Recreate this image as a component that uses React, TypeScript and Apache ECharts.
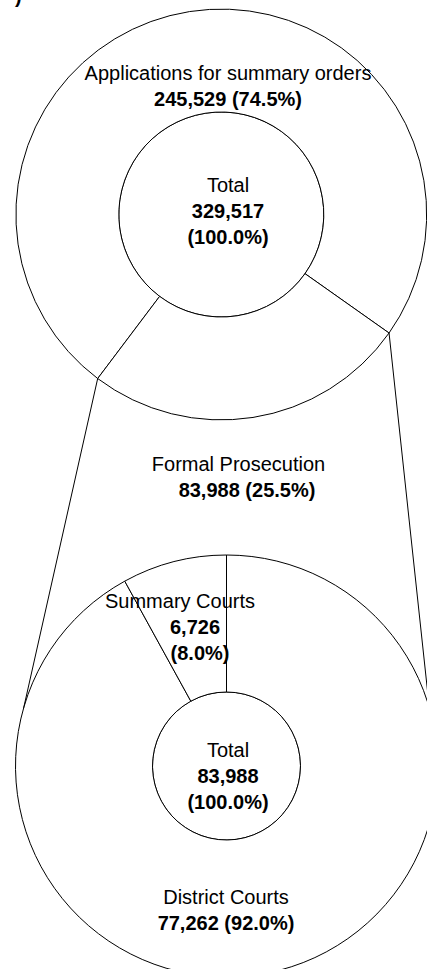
import React, { useEffect, useRef } from 'react';
import * as echarts from 'echarts';

// ---------- data ----------
const totalName = 'Total';
const topCategories = ['Applications for summary orders', 'Formal Prosecution'];
const topValues = [245529, 83988];
const bottomCategories = ['District Courts', 'Summary Courts'];
const bottomValues = [77262, 6726];

// ---------- styling / geometry ----------
const FONT = "'Liberation Sans', Arial, Helvetica, sans-serif";
const TOP = { cx: 221.3, cy: 214.5, r0: 102.5, r1: 205.4, startAngle: 233 };
const BOT = { cx: 226.5, cy: 766, r0: 74, r1: 211, startAngle: 90 };
const CONNECT_ANGLES = [164, 16];

const fmt = (v: number) => v.toLocaleString('en-US');
const pct = (v: number, t: number) => (v / t * 100).toFixed(1) + '%';
const sum = (a: number[]) => a.reduce((s, v) => s + v, 0);

const rich = {
  n: { fontFamily: FONT, fontSize: 20, lineHeight: 26, color: '#000', fontWeight: 'normal' as const },
  b: { fontFamily: FONT, fontSize: 20, lineHeight: 26, color: '#000', fontWeight: 'bold' as const },
  bf: { fontFamily: FONT, fontSize: 20, lineHeight: 26, color: '#000', fontWeight: 'bold' as const, padding: [0, 0, 0, 17] },
  bs: { fontFamily: FONT, fontSize: 20, lineHeight: 26, color: '#000', fontWeight: 'bold' as const, padding: [0, 0, 0, 30] },
  bp: { fontFamily: FONT, fontSize: 20, lineHeight: 26, color: '#000', fontWeight: 'bold' as const, padding: [0, 0, 0, 40] },
};

const LABEL_POS: Record<string, { x: number; y: number }[]> = {
  topTotal: [{ x: 228, y: 211 }],
  topRing: [{ x: 228, y: 85.5 }, { x: 238.5, y: 476.5 }],
  botTotal: [{ x: 228, y: 776 }],
  botRing: [{ x: 226, y: 909.5 }, { x: 180, y: 626.5 }],
};

const itemStyle = { color: '#fff', borderColor: '#000', borderWidth: 1 };

function makeLayout(key: string) {
  return (p: any) => {
    const pos = LABEL_POS[key][p.dataIndex];
    return { x: pos.x, y: pos.y, align: 'center', verticalAlign: 'middle' };
  };
}

export default function App() {
  const ref = useRef<HTMLDivElement>(null);
  useEffect(() => {
    if (!ref.current) return;
    const chart = echarts.init(ref.current, undefined, { renderer: 'svg' });
    const topTotal = sum(topValues);
    const botTotal = sum(bottomValues);

    const rad = (d: number) => (d * Math.PI) / 180;
    const topShare = (topValues[0] / topTotal) * 360;
    const a1 = TOP.startAngle;
    const a2 = TOP.startAngle - topShare;
    const p = (c: any, r: number, a: number) => [c.cx + r * Math.cos(rad(a)), c.cy - r * Math.sin(rad(a))];
    const t1 = p(TOP, TOP.r1, a1);
    const t2 = p(TOP, TOP.r1, a2);
    const b1 = p(BOT, BOT.r1, CONNECT_ANGLES[0]);
    const b2 = p(BOT, BOT.r1, CONNECT_ANGLES[1]);

    const totalFormatter = (v: number) => `{n|${totalName}}\n{b|${fmt(v)}}\n{b|(${pct(v, v)})}`;

    const common = {
      type: 'pie' as const,
      silent: true,
      avoidLabelOverlap: false,
      itemStyle,
      labelLine: { show: false },
      emphasis: { disabled: true },
    };

    chart.setOption({
      animation: false,
      backgroundColor: '#fff',
      graphic: [
        {
          type: 'line',
          z: 10,
          shape: { x1: t1[0], y1: t1[1], x2: b1[0], y2: b1[1] },
          style: { stroke: '#000', lineWidth: 1 },
        },
        {
          type: 'line',
          z: 10,
          shape: { x1: t2[0], y1: t2[1], x2: b2[0], y2: b2[1] },
          style: { stroke: '#000', lineWidth: 1 },
        },
        {
          type: 'text',
          x: 15,
          y: 6,
          style: { text: ')', font: `bold 20px ${FONT}`, fill: '#000', align: 'left', verticalAlign: 'bottom' },
        },
      ],
      series: [
        {
          ...common,
          name: 'topTotal',
          center: [TOP.cx, TOP.cy],
          radius: [0, TOP.r0],
          data: [{ name: totalName, value: topTotal }],
          label: { show: true, position: 'inside', formatter: () => totalFormatter(topTotal), rich },
          labelLayout: makeLayout('topTotal'),
        },
        {
          ...common,
          name: 'topRing',
          center: [TOP.cx, TOP.cy],
          radius: [TOP.r0, TOP.r1],
          startAngle: TOP.startAngle,
          data: topCategories.map((c, i) => ({ name: c, value: topValues[i] })),
          label: {
            show: true,
            position: 'inside',
            rich,
            formatter: (q: any) => {
              const v = topValues[q.dataIndex];
              const style = q.dataIndex === 1 ? 'bf' : 'b';
              return `{n|${q.name}}\n{${style}|${fmt(v)} (${pct(v, topTotal)})}`;
            },
          },
          labelLayout: makeLayout('topRing'),
        },
        {
          ...common,
          name: 'botTotal',
          center: [BOT.cx, BOT.cy],
          radius: [0, BOT.r0],
          data: [{ name: totalName, value: botTotal }],
          label: { show: true, position: 'inside', formatter: () => totalFormatter(botTotal), rich },
          labelLayout: makeLayout('botTotal'),
        },
        {
          ...common,
          name: 'botRing',
          center: [BOT.cx, BOT.cy],
          radius: [BOT.r0, BOT.r1],
          startAngle: BOT.startAngle,
          data: bottomCategories.map((c, i) => ({ name: c, value: bottomValues[i] })),
          label: {
            show: true,
            position: 'inside',
            rich,
            formatter: (q: any) => {
              const v = bottomValues[q.dataIndex];
              if (q.dataIndex === 1) {
                return `{n|${q.name}}\n{bs|${fmt(v)}}\n{bp|(${pct(v, botTotal)})}`;
              }
              return `{n|${q.name}}\n{b|${fmt(v)} (${pct(v, botTotal)})}`;
            },
          },
          labelLayout: makeLayout('botRing'),
        },
      ],
    });
    return () => chart.dispose();
  }, []);
  return (
    <div
      ref={ref}
      style={{ position: 'absolute', left: 0, top: 0, width: 427, height: 969 }}
    />
  );
}
